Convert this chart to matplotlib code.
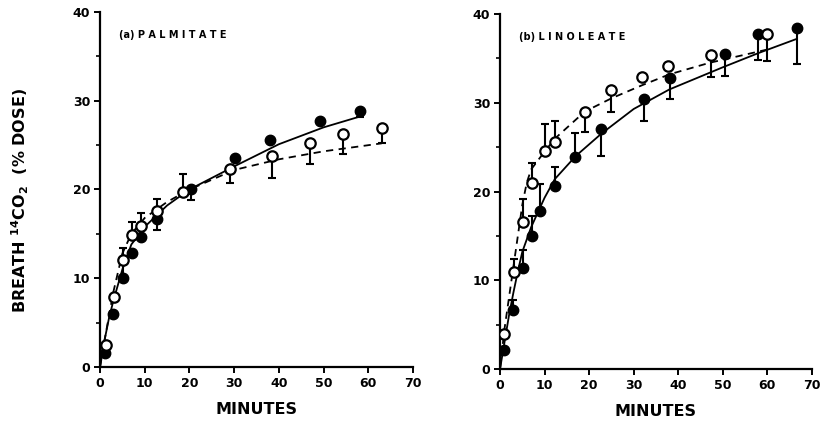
import numpy as np
import matplotlib
matplotlib.use("Agg")
import matplotlib.pyplot as plt

# (a) palmitate - filled circles (solid curve)
pal_fill_x = [1.1, 3.0, 5.1, 7.1, 9.2, 12.7, 20.3, 30.3, 38.0, 49.2, 58.1]
pal_fill_y = [1.6, 6.0, 10.0, 12.8, 14.6, 16.7, 20.1, 23.5, 25.6, 27.7, 28.9]
pal_fill_lo = [0, 0, 0, 0, 0, 1.3, 1.3, 0, 0, 0, 0.7]
pal_fill_hi = [0, 0, 3.4, 0, 0, 0, 0, 0, 0, 0, 0]
# (a) palmitate - open circles (dashed curve)
pal_open_x = [1.3, 3.1, 5.2, 7.1, 9.2, 12.7, 18.6, 29.1, 38.4, 47.0, 54.4, 63.0]
pal_open_y = [2.5, 7.9, 12.1, 14.9, 15.9, 17.6, 19.7, 22.3, 23.8, 25.2, 26.2, 26.9]
pal_open_lo = [0, 0, 0, 0, 0, 0, 0, 1.6, 2.5, 2.3, 2.2, 1.7]
pal_open_hi = [0, 0, 0, 1.4, 1.5, 1.3, 2.1, 0, 0, 0, 0, 0]
# fitted curves
pal_solid_x = [0, 1, 2, 3, 5, 7, 10, 15, 20, 30, 40, 50, 58]
pal_solid_y = [0, 3.0, 5.5, 7.5, 11.0, 13.8, 15.8, 18.2, 20.0, 22.6, 25.1, 27.0, 28.2]
pal_dash_x = [0, 1, 3, 5, 7, 10, 15, 20, 30, 40, 50, 63]
pal_dash_y = [0, 3.0, 8.5, 12.8, 15.0, 16.8, 18.6, 20.0, 22.2, 23.4, 24.3, 25.2]

# (b) linoleate - filled circles (solid curve)
lin_fill_x = [1.0, 3.0, 5.1, 7.2, 9.0, 12.3, 16.8, 22.7, 32.2, 38.1, 50.5, 58.0, 66.6]
lin_fill_y = [2.1, 6.6, 11.4, 15.0, 17.8, 20.6, 23.9, 27.0, 30.4, 32.8, 35.5, 37.7, 38.4]
lin_fill_lo = [0, 0, 0, 0, 0, 0, 0, 3.0, 2.5, 2.4, 2.5, 2.9, 4.0]
lin_fill_hi = [0, 1.2, 2.0, 2.2, 3.0, 2.2, 2.7, 0, 0, 0, 0, 0, 0]
# (b) linoleate - open circles (dashed curve)
lin_open_x = [1.0, 3.2, 5.2, 7.2, 10.2, 12.4, 19.1, 24.9, 31.9, 37.6, 47.3, 59.8]
lin_open_y = [3.9, 10.9, 16.6, 21.0, 24.6, 25.6, 29.0, 31.4, 32.9, 34.1, 35.4, 37.7]
lin_open_lo = [0, 0, 0, 0, 0, 0, 2.3, 2.4, 0, 0, 2.5, 3.0]
lin_open_hi = [0, 1.5, 2.5, 2.2, 3.0, 2.4, 0, 0, 0, 0, 0, 0]
lin_solid_x = [0, 1, 2, 3, 4, 5, 7, 10, 12.3, 17, 22.7, 30, 38, 50, 58, 66.6]
lin_solid_y = [0, 3.0, 6.0, 8.6, 11.0, 13.2, 16.0, 19.3, 21.4, 24.0, 26.5, 29.3, 31.5, 34.0, 35.6, 37.2]
lin_dash_x = [0, 1, 2, 3, 4, 5, 6, 7, 10, 12.4, 19, 25, 32, 38, 47, 60]
lin_dash_y = [0, 4.5, 8.0, 11.5, 15.0, 18.5, 21.0, 22.5, 24.5, 26.0, 29.0, 30.5, 32.0, 33.2, 34.5, 36.0]

panels = [
    ("(a) P A L M I T A T E", pal_fill_x, pal_fill_y, pal_fill_lo, pal_fill_hi,
     pal_open_x, pal_open_y, pal_open_lo, pal_open_hi,
     pal_solid_x, pal_solid_y, pal_dash_x, pal_dash_y),
    ("(b) L I N O L E A T E", lin_fill_x, lin_fill_y, lin_fill_lo, lin_fill_hi,
     lin_open_x, lin_open_y, lin_open_lo, lin_open_hi,
     lin_solid_x, lin_solid_y, lin_dash_x, lin_dash_y),
]

fig = plt.figure(figsize=(8.22, 4.22), dpi=100)
ax_a = fig.add_axes([0.1217, 0.1303, 0.3807, 0.8413])
ax_b = fig.add_axes([0.6083, 0.1256, 0.3795, 0.8412])

for ax, p in zip([ax_a, ax_b], panels):
    (title, fx, fy, flo, fhi, ox, oy, olo, ohi, sx, sy, dx, dy) = p
    ax.plot(sx, sy, color="black", lw=1.3, zorder=2)
    ax.plot(dx, dy, color="black", lw=1.3, ls=(0, (4, 3)), zorder=2)
    ax.errorbar(fx, fy, yerr=[flo, fhi], fmt="none", ecolor="black",
                elinewidth=1.5, capsize=3, capthick=1.5, zorder=3)
    ax.errorbar(ox, oy, yerr=[olo, ohi], fmt="none", ecolor="black",
                elinewidth=1.5, capsize=3, capthick=1.5, zorder=3)
    ax.plot(fx, fy, "o", color="black", ms=7.5, zorder=4)
    ax.plot(ox, oy, "o", mfc="white", mec="black", mew=1.6, ms=7.5, zorder=5)
    ax.text(0.06, 0.935, title, transform=ax.transAxes, fontsize=7,
            fontweight="bold", ha="left", va="center")
    ax.set_xlim(0, 70)
    ax.set_ylim(0, 40)
    ax.set_xticks(range(0, 71, 10))
    ax.set_yticks(range(0, 41, 10))
    ax.set_yticks(range(5, 40, 10), minor=True)
    ax.spines["top"].set_visible(False)
    ax.spines["right"].set_visible(False)
    ax.spines["left"].set_linewidth(1.6)
    ax.spines["bottom"].set_linewidth(1.6)
    ax.tick_params(direction="out", length=4, width=1.4, labelsize=9, pad=3)
    ax.tick_params(which="minor", direction="out", length=3, width=1.2)
    for lab in ax.get_xticklabels() + ax.get_yticklabels():
        lab.set_fontweight("bold")
    ax.set_xlabel("MINUTES", fontsize=11.5, fontweight="bold")
    ax.xaxis.set_label_coords(0.5, -0.098)

ax_a.set_ylabel("BREATH $\\mathbf{^{14}}$CO$\\mathbf{_2}$  (% DOSE)",
                fontsize=11.5, fontweight="bold")
ax_a.yaxis.set_label_coords(-0.22, 0.47)

fig.savefig("out.png", dpi=100)
